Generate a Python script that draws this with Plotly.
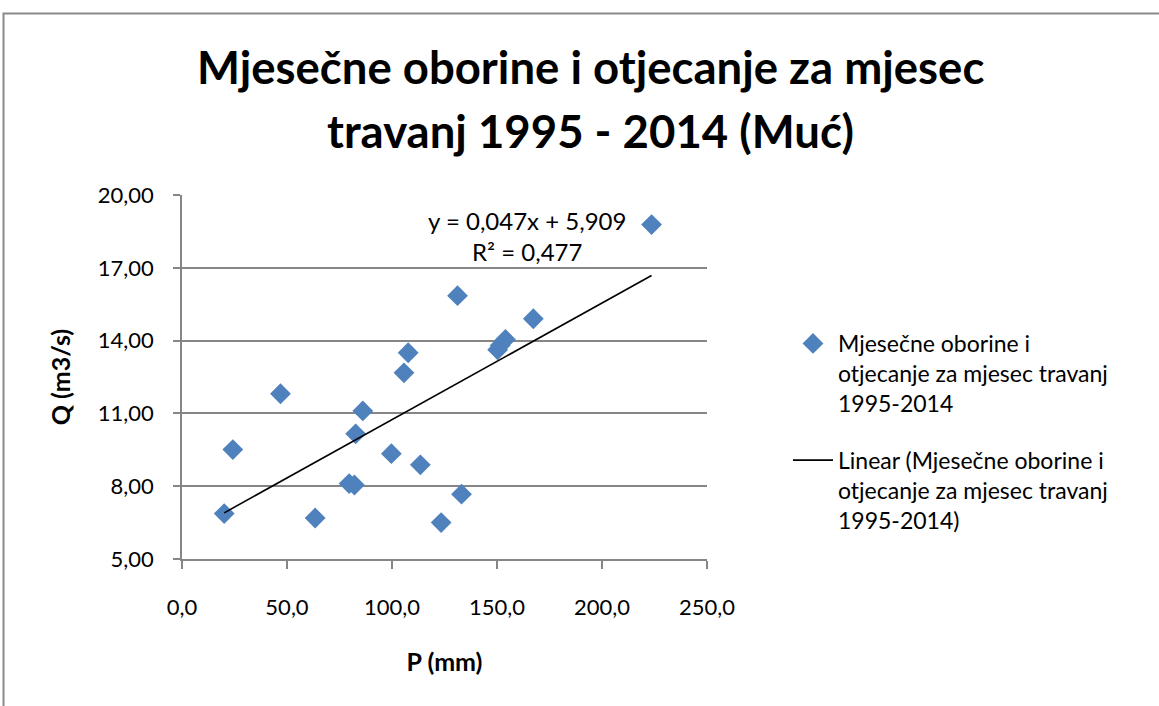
import numpy as np
import plotly.graph_objects as go

# ---- data ----
P_mm = [20.1, 24.2, 46.9, 63.4, 79.6, 82.1, 82.7, 86.1, 99.7, 105.7,
        107.7, 113.5, 123.4, 131.2, 133.1, 150.3, 151.5, 154.0, 167.3, 223.6]
Q_m3s = [6.87, 9.51, 11.81, 6.69, 8.11, 8.05, 10.16, 11.10, 9.34, 12.67,
         13.50, 8.88, 6.50, 15.85, 7.67, 13.62, 13.80, 14.05, 14.90, 18.78]

x_ticks = [0, 50, 100, 150, 200, 250]
y_ticks = [5, 8, 11, 14, 17, 20]

series_name = "Mjesečne oborine i<br>otjecanje za mjesec travanj<br>1995-2014"
trend_name = "Linear (Mjesečne oborine i<br>otjecanje za mjesec travanj<br>1995-2014)"
title_lines = ["Mjesečne oborine i otjecanje za mjesec", "travanj 1995 - 2014 (Muć)"]
equation_lines = ["y = 0,047x + 5,909", "R² = 0,477"]

# ---- linear trend computed from the data ----
slope, intercept = np.polyfit(P_mm, Q_m3s, 1)
trend_x = [min(P_mm), max(P_mm)]
trend_y = [slope * v + intercept for v in trend_x]

# ---- geometry ----
W, H = 1159, 706
L, R, T, B = 182, 707, 195, 559
FONT = "Lato"
GRAY = "#868686"


def px(xp):
    return (xp - L) / (R - L)


def py(yp):
    return (B - yp) / (B - T)


fig = go.Figure()
fig.add_trace(go.Scatter(
    x=P_mm, y=Q_m3s, mode="markers", name=series_name, legendgroup="a",
    marker=dict(symbol="diamond", size=16, color="#4F81BD",
                line=dict(width=0)),
))
fig.add_trace(go.Scatter(
    x=trend_x, y=trend_y, mode="lines", name=trend_name, legendgroup="b",
    line=dict(color="black", width=1.6),
))

annotations = []
for text, yc in zip(title_lines, [67, 130]):
    annotations.append(dict(
        text=text, xref="paper", yref="paper", x=px(590), y=py(yc),
        xanchor="center", yanchor="middle", showarrow=False,
        font=dict(family=FONT, size=45.5, color="black", weight="bold"),
    ))
for text, yc in zip(equation_lines, [220, 251]):
    annotations.append(dict(
        text=text, xref="paper", yref="paper", x=px(527), y=py(yc),
        xanchor="center", yanchor="middle", showarrow=False,
        font=dict(family=FONT, size=24, color="black"),
    ))

fig.update_layout(
    width=W, height=H, autosize=False,
    margin=dict(l=L, r=W - R, t=T, b=H - B, pad=0),
    paper_bgcolor="white", plot_bgcolor="white",
    separators=",.",
    font=dict(family=FONT, size=22, color="black"),
    showlegend=True,
    legend=dict(
        xref="container", yref="container",
        x=788 / W, y=1 - 322 / H, xanchor="left", yanchor="top",
        font=dict(family=FONT, size=23, color="black"),
        itemwidth=40, valign="top", tracegroupgap=24,
        traceorder="grouped",
        bgcolor="rgba(0,0,0,0)",
    ),
    annotations=annotations,
    shapes=[dict(
        type="rect", xref="paper", yref="paper",
        x0=px(3.5), y0=py(13.5), x1=px(1175), y1=py(725),
        line=dict(color="#8a8a8a", width=2), fillcolor="rgba(0,0,0,0)",
    )],
    hovermode=False,
)

fig.update_xaxes(
    range=[0, 250], tickvals=x_ticks, tickformat=".1f",
    showgrid=False, zeroline=False,
    showline=True, linecolor=GRAY, linewidth=1.5,
    ticks="outside", ticklen=8, tickcolor=GRAY, tickwidth=1.5,
    ticklabelstandoff=20,
    tickfont=dict(family=FONT, size=22, color="black"),
    title=dict(text="P (mm)", standoff=34,
               font=dict(family=FONT, size=25, color="black", weight="bold")),
)
fig.update_yaxes(
    range=[5, 20], tickvals=y_ticks, tickformat=".2f",
    showgrid=True, gridcolor=GRAY, gridwidth=1.5, zeroline=False,
    showline=True, linecolor=GRAY, linewidth=1.5,
    ticks="outside", ticklen=7, tickcolor=GRAY, tickwidth=1.5,
    ticklabelstandoff=15,
    tickfont=dict(family=FONT, size=22, color="black"),
    title=dict(text="Q (m3/s)", standoff=20,
               font=dict(family=FONT, size=25, color="black", weight="bold")),
)

fig.write_html("out.html", config={"displayModeBar": False},
               post_script="document.body.style.margin='0';")
